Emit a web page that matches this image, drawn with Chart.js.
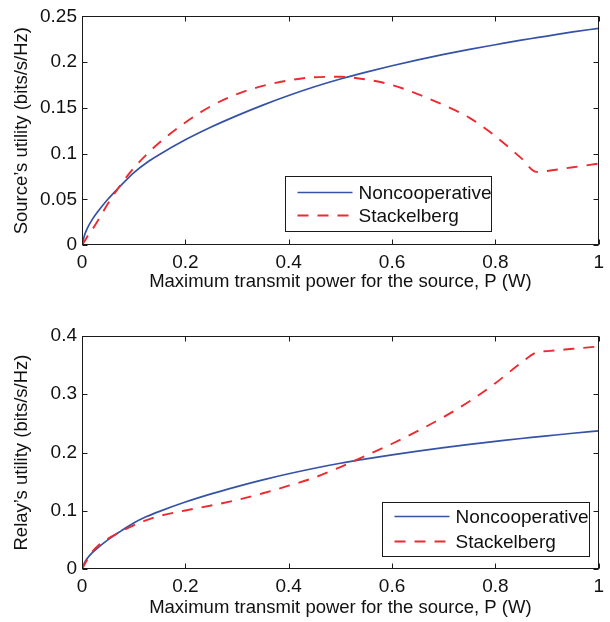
<!DOCTYPE html>
<html>
<head>
<meta charset="utf-8">
<style>
  html, body { margin: 0; padding: 0; background: #fff; }
  #wrap { position: relative; width: 610px; height: 622px; }
  .box { position: absolute; left: 0; width: 610px; }
</style>
</head>
<body>
<div id="wrap">
  <div class="box" style="top:0;height:296px"><canvas id="sourceChart"></canvas></div>
  <div class="box" style="top:310px;height:312px"><canvas id="relayChart"></canvas></div>
</div>

<script src="https://cdn.jsdelivr.net/npm/chart.js"></script>
<script>
// maximum transmit power of the source, P (W)
const power = [0, 0.005, 0.01, 0.02, 0.03, 0.05, 0.075, 0.1, 0.125, 0.15, 0.2, 0.25, 0.3, 0.35, 0.4,
               0.45, 0.5, 0.55, 0.6, 0.65, 0.7, 0.75, 0.8, 0.85, 0.88, 0.9, 0.95, 1];

// source's utility (bits/s/Hz)
const sourceNoncoop = [0, 0.011, 0.018, 0.028, 0.036, 0.050, 0.065, 0.079, 0.090, 0.099, 0.115, 0.129, 0.1415, 0.153, 0.1635,
                       0.173, 0.1815, 0.189, 0.196, 0.2025, 0.2085, 0.214, 0.219, 0.224, 0.2267, 0.2285, 0.233, 0.237];
const sourceStackelberg = [0, 0.004, 0.009, 0.017, 0.026, 0.045, 0.066, 0.084, 0.099, 0.112, 0.134, 0.152, 0.165, 0.174, 0.180,
                           0.1835, 0.184, 0.181, 0.175, 0.165, 0.153, 0.139, 0.119, 0.095, 0.080, 0.081, 0.085, 0.089];

// relay's utility (bits/s/Hz)
const relayNoncoop = [0, 0.011, 0.018, 0.028, 0.036, 0.050, 0.065, 0.079, 0.090, 0.099, 0.115, 0.129, 0.1415, 0.153, 0.1635,
                      0.173, 0.1815, 0.189, 0.196, 0.2025, 0.2085, 0.214, 0.219, 0.224, 0.2267, 0.2285, 0.233, 0.237];
const relayStackelberg = [0, 0.008, 0.016, 0.030, 0.039, 0.052, 0.064, 0.075, 0.084, 0.091, 0.1005, 0.109, 0.1185, 0.130, 0.143,
                          0.157, 0.175, 0.195, 0.215, 0.237, 0.261, 0.288, 0.319, 0.354, 0.372, 0.374, 0.378, 0.382];

const powerTicks = [0, 0.2, 0.4, 0.6, 0.8, 1];
const sourceTicks = [0, 0.05, 0.1, 0.15, 0.2, 0.25];
const relayTicks = [0, 0.1, 0.2, 0.3, 0.4];
const seriesNames = ['Noncooperative', 'Stackelberg'];

const FONT = "'Liberation Sans', Arial, Helvetica, sans-serif";
const BLUE = '#3553a6';
const RED = '#ec2a2f';

// frame, inward ticks on all four sides and a boxed legend, matlab style
const matlabAxes = {
    id: 'matlabAxes',
    afterDatasetsDraw(chart, args, opts) {
        const { ctx, chartArea: a, scales } = chart;
        const L = Math.round(a.left) + 0.5, R = Math.round(a.right) - 0.5;
        const T = Math.round(a.top) + 0.5, B = Math.round(a.bottom) - 0.5;
        ctx.save();
        ctx.strokeStyle = '#1a1a1a';
        ctx.lineWidth = 1;
        ctx.strokeRect(L, T, R - L, B - T);

        const len = 5;
        ctx.beginPath();
        scales.x.ticks.forEach(t => {
            const px = Math.round(scales.x.getPixelForValue(t.value)) + 0.5;
            ctx.moveTo(px, B); ctx.lineTo(px, B - len);
            ctx.moveTo(px, T); ctx.lineTo(px, T + len);
        });
        scales.y.ticks.forEach(t => {
            const py = Math.round(scales.y.getPixelForValue(t.value)) + 0.5;
            ctx.moveTo(L, py); ctx.lineTo(L + len, py);
            ctx.moveTo(R, py); ctx.lineTo(R - len, py);
        });
        ctx.stroke();

        // legend box
        const bx = Math.round(a.right - opts.right - opts.width) + 0.5;
        const by = Math.round(a.bottom - opts.bottom - opts.height) + 0.5;
        ctx.fillStyle = '#fff';
        ctx.fillRect(bx, by, opts.width, opts.height);
        ctx.strokeStyle = '#1a1a1a';
        ctx.strokeRect(bx, by, opts.width, opts.height);

        chart.data.datasets.forEach((ds, i) => {
            const ry = by + opts.rows[i];
            ctx.beginPath();
            ctx.strokeStyle = ds.borderColor;
            ctx.lineWidth = ds.borderWidth;
            ctx.setLineDash(ds.borderDash || []);
            ctx.moveTo(bx + 12, ry);
            ctx.lineTo(bx + 67, ry);
            ctx.stroke();
            ctx.setLineDash([]);
            ctx.fillStyle = '#111';
            ctx.font = '19px ' + FONT;
            ctx.textBaseline = 'middle';
            ctx.textAlign = 'left';
            ctx.fillText(ds.label, bx + 73, ry + 1);
        });
        ctx.restore();
    }
};

function points(ys) {
    return power.map((p, i) => ({ x: p, y: ys[i] }));
}

function makeChart(id, noncoop, stackel, yTicks, yMax, yTitle, pad, xAxisHeight, legend) {
    const ctx = document.getElementById(id).getContext('2d');
    return new Chart(ctx, {
        type: 'line',
        data: {
            datasets: [{
                label: seriesNames[0],
                data: points(noncoop),
                borderColor: BLUE,
                borderWidth: 1.7,
                pointRadius: 0,
                cubicInterpolationMode: 'monotone',
                order: 2
            }, {
                label: seriesNames[1],
                data: points(stackel),
                borderColor: RED,
                borderWidth: 1.9,
                borderDash: [11, 9],
                pointRadius: 0,
                cubicInterpolationMode: 'monotone',
                order: 1
            }]
        },
        options: {
            responsive: true,
            maintainAspectRatio: false,
            animation: false,
            layout: { padding: pad },
            plugins: {
                legend: { display: false },
                tooltip: { enabled: false },
                matlabAxes: legend
            },
            scales: {
                x: {
                    type: 'linear',
                    min: 0,
                    max: 1,
                    afterBuildTicks: s => { s.ticks = powerTicks.map(v => ({ value: v })); },
                    afterFit: s => { s.height = xAxisHeight; },
                    grid: { display: false, drawTicks: false },
                    border: { display: false },
                    ticks: {
                        color: '#111',
                        padding: 6,
                        maxRotation: 0,
                        font: { family: FONT, size: 19 },
                        callback: v => String(v)
                    },
                    title: {
                        display: true,
                        text: 'Maximum transmit power for the source, P (W)',
                        color: '#111',
                        font: { family: FONT, size: 18.5 },
                        padding: { top: 0, bottom: 3 }
                    }
                },
                y: {
                    type: 'linear',
                    min: 0,
                    max: yMax,
                    afterBuildTicks: s => { s.ticks = yTicks.map(v => ({ value: v })); },
                    afterFit: s => { s.width = 82; },
                    grid: { display: false, drawTicks: false },
                    border: { display: false },
                    ticks: {
                        color: '#111',
                        padding: 5,
                        font: { family: FONT, size: 19 },
                        callback: v => String(Number(v.toFixed(3)))
                    },
                    title: {
                        display: true,
                        text: yTitle,
                        color: '#111',
                        font: { family: FONT, size: 18.5 },
                        padding: { top: 11, bottom: 0 }
                    }
                }
            }
        },
        plugins: [matlabAxes]
    });
}

makeChart('sourceChart', sourceNoncoop, sourceStackelberg, sourceTicks, 0.25,
    'Source\u2019s utility (bits/s/Hz)',
    { left: 0, right: 9, top: 12, bottom: 0 }, 51,
    { right: 108, bottom: 14, width: 206, height: 55, rows: [16, 39] });

makeChart('relayChart', relayNoncoop, relayStackelberg, relayTicks, 0.4,
    'Relay\u2019s utility (bits/s/Hz)',
    { left: 0, right: 9, top: 26, bottom: 0 }, 53,
    { right: 10, bottom: 13, width: 207, height: 54, rows: [14, 39] });
</script>
</body>
</html>
